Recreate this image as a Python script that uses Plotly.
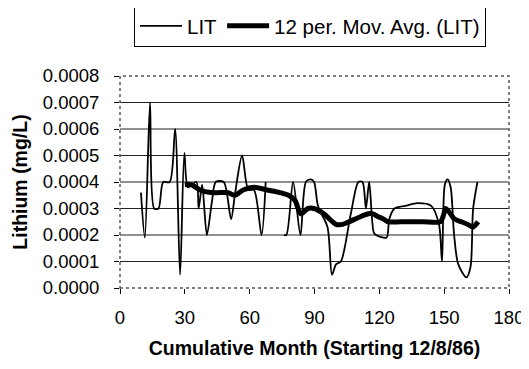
import plotly.graph_objects as go

# ---- data ----
lit_month = [9.7, 11.5, 13.9, 15.8, 17.8, 20.0, 23.0, 25.5, 27.8, 29.8, 31.5, 35.3, 36.4, 38.0, 40.2,
             42.6, 44.3, 48.0, 51.4, 53.3, 56.5, 59.4, 62.0, 65.5, 67.4, None,
             75.8, 77.0, 80.1, 83.5, 86.0, 88.2, 89.8, 91.6, 96.0, 98.1, 100.0, 102.2, 106.8,
             110.3, 112.2, 113.8, 115.3, 117.4, 118.5, 123.3, 124.6, 127.0, 132.0, 137.8, 144.0,
             147.6, 149.0, 150.3, 151.6, 153.0, 154.6, 156.5, 160.3, 162.2, 163.4, 165.4]
lit_value = [0.00036, 0.00019, 0.00070, 0.00030, 0.00030, 0.00040, 0.00040, 0.00060, 0.00005, 0.00051,
             0.00038, 0.00040, 0.00030, 0.00039, 0.00020,
             0.00033, 0.00040, 0.00040, 0.00026, 0.00036, 0.00050, 0.00037, 0.00037, 0.00020, 0.00040, None,
             0.00020, 0.00020, 0.00040, 0.00020, 0.00040, 0.00041, 0.00040, 0.00031, 0.00023, 0.00005,
             0.00009, 0.00010, 0.00028,
             0.00040, 0.00040, 0.00030, 0.00040, 0.00021, 0.00020, 0.00019, 0.00026, 0.00030, 0.00031,
             0.00032, 0.00031,
             0.00024, 0.00010, 0.00039, 0.00041, 0.00038, 0.00020, 0.00009, 0.00004, 0.00008, 0.00030, 0.00040]

ma_month = [30, 33, 37, 42, 46, 50, 53, 57, 62, 68, 74, 78, 81, 83.6, 87, 89.7, 94.3, 97, 100, 103,
            106, 111.5, 115, 117, 119.2, 122, 124, 130, 140, 148.3, 149.5, 150.7, 152, 154.8, 158,
            161, 163.3, 165.7]
ma_value = [0.00039, 0.00039, 0.00037, 0.00036, 0.00036, 0.00036, 0.00035, 0.00037, 0.00038, 0.00037,
            0.00036, 0.00035, 0.00033, 0.00028, 0.00030, 0.00030, 0.00028, 0.00026, 0.00024, 0.00024,
            0.00025, 0.00027, 0.00028, 0.00028, 0.00027, 0.00026, 0.00025, 0.00025, 0.00025, 0.00025,
            0.00027, 0.00030, 0.00029, 0.00026, 0.00025, 0.00024, 0.00023, 0.00025]

x_ticks = [0, 30, 60, 90, 120, 150, 180]
y_ticks = [0.0000, 0.0001, 0.0002, 0.0003, 0.0004, 0.0005, 0.0006, 0.0007, 0.0008]

FONT = "Liberation Sans, Arial, sans-serif"

fig = go.Figure()
fig.add_trace(go.Scatter(x=lit_month, y=lit_value, mode="lines", name="LIT",
                         line=dict(color="black", width=1.8, shape="spline", smoothing=0.8),
                         connectgaps=False))
fig.add_trace(go.Scatter(x=ma_month, y=ma_value, mode="lines", name="12 per. Mov. Avg. (LIT)",
                         line=dict(color="black", width=5, shape="spline", smoothing=0.8)))

shapes = []
for v in y_ticks[1:-1]:
    shapes.append(dict(type="line", xref="paper", yref="y", x0=0, x1=1, y0=v, y1=v,
                       line=dict(color="#222", width=1), layer="below"))
shapes.append(dict(type="rect", xref="paper", yref="paper", x0=0, x1=1, y0=0, y1=1,
                   line=dict(color="#555", width=1.5, dash="dot"), layer="above"))

# page has an 8px body margin, so the figure is sized/offset to compensate
fig.update_layout(
    width=521, height=361,
    margin=dict(l=112, r=20, t=68, b=81, autoexpand=False),
    paper_bgcolor="white", plot_bgcolor="white",
    font=dict(family=FONT, size=18, color="black"),
    showlegend=True,
    legend=dict(orientation="h", x=(310 - 120) / 389, xanchor="center", y=1.335, yanchor="top",
                bordercolor="black", borderwidth=1, bgcolor="white",
                font=dict(family=FONT, size=20.5), itemwidth=42, tracegroupgap=0),
    shapes=shapes,
    xaxis=dict(range=[0, 180], tickvals=x_ticks, ticktext=[str(t) for t in x_ticks],
               showgrid=False, zeroline=False, showline=False, automargin=False,
               ticks="outside", ticklen=5, tickcolor="black", ticklabelstandoff=8,
               title=dict(text="<b>Cumulative Month (Starting 12/8/86)</b>",
                          font=dict(family=FONT, size=19.5), standoff=14),
               tickfont=dict(family=FONT, size=18.5)),
    yaxis=dict(range=[0, 0.0008], tickvals=y_ticks, ticktext=[f"{t:.4f}" for t in y_ticks],
               showgrid=False, zeroline=False, showline=False, automargin=False,
               ticks="outside", ticklen=5, tickcolor="black", ticklabelstandoff=11,
               title=dict(text="<b>Lithium (mg/L)</b>", font=dict(family=FONT, size=19.5), standoff=9),
               tickfont=dict(family=FONT, size=18.5)),
)

fig.write_html("out.html")
